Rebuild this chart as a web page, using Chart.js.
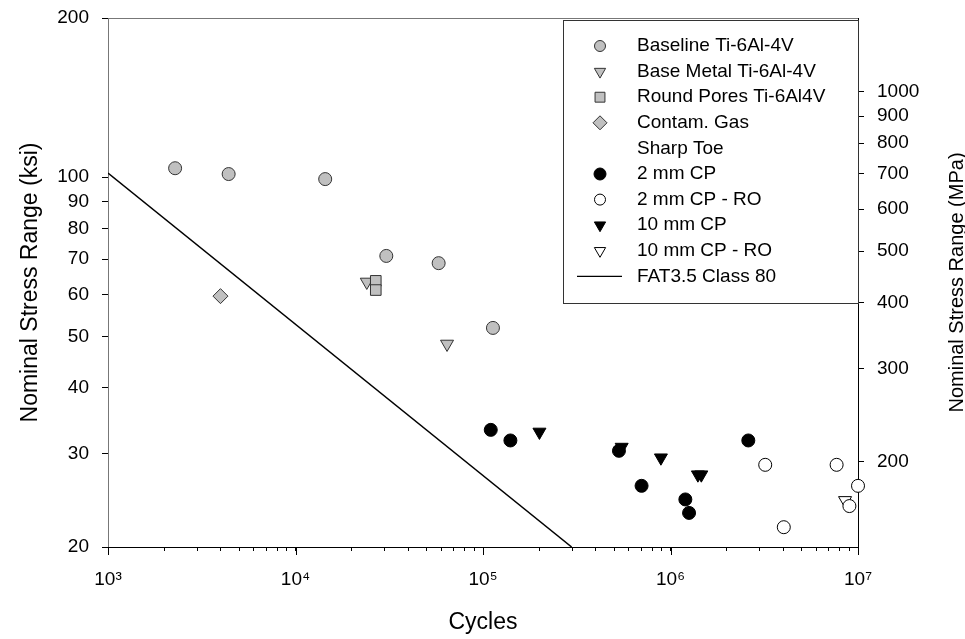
<!DOCTYPE html>
<html>
<head>
<meta charset="utf-8">
<script src="https://cdn.jsdelivr.net/npm/chart.js@4"></script>
<style>
  html, body { margin: 0; padding: 0; background: #fff; }
  #wrap { width: 965px; height: 639px; }
</style>
</head>
<body>
<div id="wrap"><canvas id="myChart"></canvas></div>
<script>
// values (cycles, ksi)
const baselineN = [2280, 4400, 14400, 30500, 58000, 113000];
const baselineS = [104, 101.4, 99.2, 71, 68.8, 51.9];
const baseMetalN = [24000, 64300];
const baseMetalS = [63.4, 48.4];
const roundPoresN = [26800, 26800];
const roundPoresS = [63.7, 61.2];
const contamN = [3980];
const contamS = [59.6];
const cp2N = [110000, 140000, 531000, 701000, 1200000, 1256000, 2600000];
const cp2S = [33.3, 31.8, 30.4, 26.1, 24.6, 23.2, 31.8];
const cp2roN = [3200000, 4020000, 7690000, 10000000, 9000000];
const cp2roS = [28.6, 21.8, 28.6, 26.1, 23.9];
const cp10N = [200000, 549000, 889000, 1400000, 1460000];
const cp10S = [33.0, 30.9, 29.5, 27.4, 27.4];
const cp10roN = [8530000];
const cp10roS = [24.5];
const fatN = [1000, 297000];
const fatS = [101.8, 20];

const xMajor = [1e3, 1e4, 1e5, 1e6, 1e7];
const xMajorLabels = ['10³', '10⁴', '10⁵', '10⁶', '10⁷'];
const ksiTicks = [20, 30, 40, 50, 60, 70, 80, 90, 100, 200];
const mpaTicks = [200, 300, 400, 500, 600, 700, 800, 900, 1000];
const KSI_TO_MPA = 6.894757;

const pts = (n, s) => n.map((v, i) => ({ x: v, y: s[i] }));

const xTicks = [];
xMajor.forEach((m, i) => {
  xTicks.push(m);
  if (i < xMajor.length - 1) for (let k = 2; k <= 9; k++) xTicks.push(m * k);
});

const FONT = '"Liberation Sans", Arial, sans-serif';
Chart.defaults.font.family = FONT;
Chart.defaults.color = '#000';

const gray = '#c0c0c0', edge = '#333';

// legend in a framed box at the top right of the plot
const boxLegend = {
  id: 'boxLegend',
  afterDraw(chart) {
    const { ctx, chartArea } = chart;
    const w = 295, h = 283;
    const x0 = chartArea.right - w, y0 = chartArea.top + 2;
    ctx.save();
    ctx.fillStyle = '#fff';
    ctx.fillRect(x0, y0, w, h);
    ctx.strokeStyle = '#333';
    ctx.lineWidth = 1;
    ctx.strokeRect(x0 + 0.5, y0 + 0.5, w, h);
    ctx.font = '19px ' + FONT;
    ctx.textBaseline = 'middle';
    let y = y0 + 26;
    chart.data.datasets.forEach(ds => {
      if (ds.showLine) {
        ctx.strokeStyle = '#000';
        ctx.lineWidth = 1.2;
        ctx.beginPath();
        ctx.moveTo(x0 + 14, y);
        ctx.lineTo(x0 + 59, y);
        ctx.stroke();
      } else {
        ctx.fillStyle = ds.backgroundColor;
        ctx.strokeStyle = ds.borderColor;
        ctx.lineWidth = 1;
        Chart.helpers.drawPoint(ctx, {
          pointStyle: ds.pointStyle, rotation: ds.rotation || 0,
          radius: ds.legendRadius, borderWidth: 1
        }, x0 + 37, y);
      }
      ds.label.split('\n').forEach(t => {
        ctx.fillStyle = '#000';
        ctx.fillText(t, x0 + 74, y);
        y += 25.6;
      });
    });
    ctx.restore();
  }
};

// top frame line, longer major ticks on x, and the right-hand title (reads bottom to top)
const frame = {
  id: 'frame',
  afterDraw(chart) {
    const { ctx, chartArea } = chart;
    const xs = chart.scales.x;
    ctx.save();
    ctx.strokeStyle = '#777';
    ctx.lineWidth = 1;
    ctx.beginPath();
    ctx.moveTo(chartArea.left, chartArea.top + 0.5);
    ctx.lineTo(chartArea.right, chartArea.top + 0.5);
    ctx.stroke();
    ctx.strokeStyle = '#000';
    ctx.beginPath();
    xMajor.forEach(v => {
      const px = Math.round(xs.getPixelForValue(v)) + 0.5;
      ctx.moveTo(px, chartArea.bottom);
      ctx.lineTo(px, chartArea.bottom + 8);
    });
    ctx.stroke();
    ctx.translate(957, (chartArea.top + chartArea.bottom) / 2);
    ctx.rotate(-Math.PI / 2);
    ctx.font = '20px ' + FONT;
    ctx.fillStyle = '#000';
    ctx.textAlign = 'center';
    ctx.textBaseline = 'middle';
    ctx.fillText('Nominal Stress Range (MPa)', 0, 0);
    ctx.restore();
  }
};

const marker = (label, n, s, style, fill, stroke, radius, legendRadius, order, rotation) => ({
  label, data: pts(n, s), pointStyle: style, rotation: rotation || 0,
  pointRotation: rotation || 0,
  backgroundColor: fill, borderColor: stroke, pointBackgroundColor: fill,
  pointBorderColor: stroke, pointBorderWidth: 1, pointRadius: radius,
  legendRadius, order, showLine: false, clip: false, yAxisID: 'y'
});

const fitV = w => s => { s.width = w; s.paddingTop = 0; s.paddingBottom = 0; };

new Chart('myChart', {
  type: 'scatter',
  data: {
    datasets: [
      marker('Baseline Ti-6Al-4V', baselineN, baselineS, 'circle', gray, edge, 6.5, 5.5, 5),
      marker('Base Metal Ti-6Al-4V', baseMetalN, baseMetalS, 'triangle', gray, edge, 7.5, 6.5, 6, 180),
      marker('Round Pores Ti-6Al4V', roundPoresN, roundPoresS, 'rect', gray, edge, 7.5, 7, 4),
      marker('Contam. Gas\nSharp Toe', contamN, contamS, 'rectRot', gray, edge, 7.5, 7, 5),
      marker('2 mm CP', cp2N, cp2S, 'circle', '#000', '#000', 6.5, 6, 2),
      marker('2 mm CP - RO', cp2roN, cp2roS, 'circle', '#fff', '#000', 6.5, 5.5, 2),
      marker('10 mm CP', cp10N, cp10S, 'triangle', '#000', '#000', 7.5, 6.5, 3, 180),
      marker('10 mm CP - RO', cp10roN, cp10roS, 'triangle', '#fff', '#000', 7.5, 6.5, 3, 180),
      {
        label: 'FAT3.5 Class 80', data: pts(fatN, fatS), showLine: true,
        borderColor: '#000', borderWidth: 1.5, pointRadius: 0, fill: false,
        order: 10, yAxisID: 'y'
      }
    ]
  },
  options: {
    responsive: true,
    maintainAspectRatio: false,
    animation: false,
    layout: { padding: { top: 18, left: 0, right: 0, bottom: 0 } },
    plugins: { legend: { display: false }, tooltip: { enabled: false } },
    scales: {
      x: {
        type: 'logarithmic', min: 1e3, max: 1e7,
        afterFit: s => { s.height = 92; s.paddingLeft = 0; s.paddingRight = 0; },
        afterBuildTicks: s => { s.ticks = xTicks.map(v => ({ value: v })); },
        ticks: {
          autoSkip: false, maxRotation: 0, padding: 17,
          font: { size: 19 }, color: '#000',
          callback: v => { const i = xMajor.indexOf(v); return i >= 0 ? xMajorLabels[i] : ''; }
        },
        grid: { drawOnChartArea: false, drawTicks: true, tickLength: 4, color: '#000' },
        border: { color: '#000', width: 1 },
        title: { display: true, text: 'Cycles', font: { size: 23 }, padding: { top: 0, bottom: 3 }, color: '#000' }
      },
      y: {
        type: 'logarithmic', position: 'left', min: 20, max: 200,
        afterFit: fitV(108),
        afterBuildTicks: s => { s.ticks = ksiTicks.map(v => ({ value: v })); },
        ticks: {
          autoSkip: false, padding: 13, font: { size: 19 }, color: '#000',
          callback: v => String(v)
        },
        grid: { drawOnChartArea: false, drawTicks: true, tickLength: 6, color: '#000' },
        border: { color: '#777', width: 1 },
        title: { display: true, text: 'Nominal Stress Range (ksi)', font: { size: 23 }, padding: { top: 17, bottom: 0 }, color: '#000' }
      },
      y2: {
        type: 'logarithmic', position: 'right',
        min: 20 * KSI_TO_MPA, max: 200 * KSI_TO_MPA,
        afterFit: fitV(107),
        afterBuildTicks: s => { s.ticks = mpaTicks.map(v => ({ value: v })); },
        ticks: {
          autoSkip: false, padding: 13, font: { size: 19 }, color: '#000',
          callback: v => String(v)
        },
        grid: { drawOnChartArea: false, drawTicks: true, tickLength: 6, color: '#000' },
        border: { color: '#000', width: 1 }
      }
    }
  },
  plugins: [frame, boxLegend]
});
</script>
</body>
</html>
